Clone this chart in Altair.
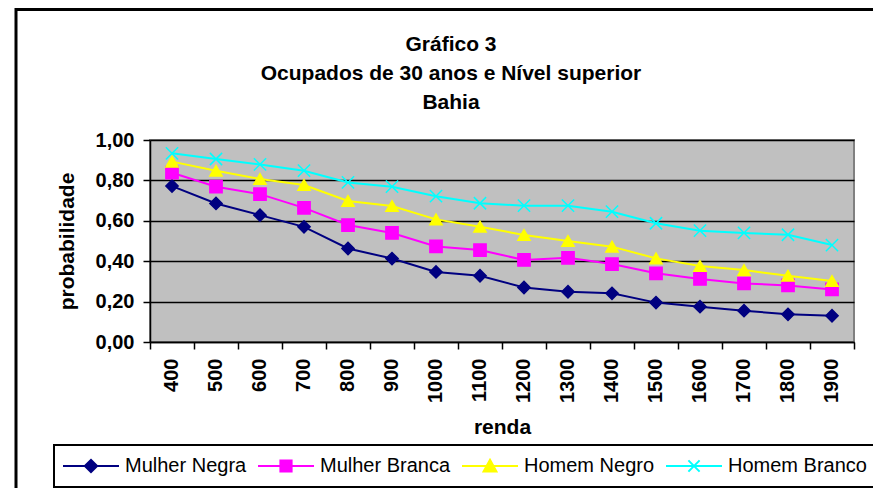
import altair as alt
import pandas as pd

renda = [400, 500, 600, 700, 800, 900, 1000, 1100, 1200, 1300, 1400, 1500, 1600, 1700, 1800, 1900]
series_names = ["Mulher Negra", "Mulher Branca", "Homem Negro", "Homem Branco"]
mulher_negra = [0.772, 0.686, 0.628, 0.570, 0.463, 0.413, 0.347, 0.328, 0.270, 0.249, 0.241, 0.195, 0.175, 0.155, 0.137, 0.130]
mulher_branca = [0.838, 0.769, 0.732, 0.664, 0.579, 0.540, 0.473, 0.455, 0.406, 0.417, 0.386, 0.340, 0.312, 0.290, 0.280, 0.260]
homem_negro = [0.893, 0.848, 0.807, 0.777, 0.698, 0.673, 0.607, 0.571, 0.530, 0.500, 0.472, 0.414, 0.376, 0.356, 0.328, 0.302]
homem_branco = [0.934, 0.906, 0.879, 0.848, 0.790, 0.769, 0.722, 0.687, 0.675, 0.675, 0.645, 0.588, 0.551, 0.540, 0.531, 0.480]
colors = ["#000080", "#FF00FF", "#FFFF00", "#00FFFF"]
y_ticks = [0, 0.2, 0.4, 0.6, 0.8, 1.0]
title_lines = ["Gráfico 3", "Ocupados de 30 anos e Nível superior", "Bahia"]

# marker shapes in the plot
plot_shapes = ["diamond", "square", "triangle-up", "M-1,-1L1,1M-1,1L1,-1"]
# legend symbols: line + marker
legend_shapes = [
    "M-1,0H1M-0.22,0L0,-0.22L0.22,0L0,0.22Z",
    "M-1,0H1M-0.2,-0.2H0.2V0.2H-0.2Z",
    "M-1,0H1M0,-0.22L0.23,0.2L-0.23,0.2Z",
    "M-1,0H1M-0.2,-0.2L0.2,0.2M-0.2,0.2L0.2,-0.2",
]

values = [mulher_negra, mulher_branca, homem_negro, homem_branco]
rows = []
for name, vals in zip(series_names, values):
    for r, v in zip(renda, vals):
        rows.append({"renda": r, "serie": name, "prob": v})
df = pd.DataFrame(rows)

FONT = "Liberation Sans"

x_enc = alt.X(
    "renda:O",
    title="renda",
    scale=alt.Scale(type="band", paddingInner=0, paddingOuter=0),
    axis=alt.Axis(
        labelAngle=-90,
        bandPosition=1,
        tickExtra=True,
        labelFontSize=20,
        labelFontWeight="bold",
        labelColor="black",
        labelPadding=9,
        tickSize=7,
        tickColor="black",
        tickWidth=1.5,
        domainColor="black",
        domainWidth=1.5,
        titleFontSize=21,
        titleFontWeight="bold",
        titleColor="black",
        titlePadding=14,
        grid=False,
    ),
)
y_enc = alt.Y(
    "prob:Q",
    title="probabilidade",
    scale=alt.Scale(domain=[0, 1], nice=False, zero=True),
    axis=alt.Axis(
        values=y_ticks,
        labelExpr="replace(format(datum.value, '.2f'), '.', ',')",
        labelFontSize=20,
        labelFontWeight="bold",
        labelColor="black",
        labelPadding=9,
        tickSize=7,
        tickColor="black",
        tickWidth=1.5,
        domainColor="black",
        domainWidth=1.5,
        gridColor="black",
        gridWidth=1.5,
        gridOpacity=1,
        titleFontSize=21,
        titleFontWeight="bold",
        titleColor="black",
        titlePadding=18,
    ),
)

col_scale = alt.Scale(domain=series_names, range=colors)

frame = alt.Chart(alt.Data(values=[{"k": 1}])).mark_rect(
    fillOpacity=0, stroke="black", strokeWidth=3
).encode(
    x=alt.value(-134), x2=alt.value(760), y=alt.value(-130.5), y2=alt.value(400)
)

lines = alt.Chart(df).mark_line(strokeWidth=2).encode(
    x=x_enc,
    y=y_enc,
    stroke=alt.Stroke("serie:N", scale=col_scale, legend=None),
    detail="serie:N",
)

points = alt.Chart(df).mark_point(filled=True, size=150, strokeWidth=1.5, opacity=1).encode(
    x=x_enc,
    y=y_enc,
    fill=alt.Fill("serie:N", scale=col_scale, legend=None),
    stroke=alt.Stroke("serie:N", scale=col_scale, legend=None),
    shape=alt.Shape("serie:N", scale=alt.Scale(domain=series_names, range=plot_shapes), legend=None),
)

leg = alt.Legend(
    title=None,
    orient="none",
    legendX=-96,
    legendY=305,
    direction="horizontal",
    padding=8,
    strokeColor="black",
    fillColor="white",
    labelFontSize=20,
    labelFont=FONT,
    labelColor="black",
    labelOffset=5,
    labelLimit=400,
    columnPadding=10,
    symbolSize=3136,
    symbolStrokeWidth=2,
    symbolOpacity=1,
    clipHeight=26,
)

legend_layer = alt.Chart(df).mark_point(filled=True, opacity=1).encode(
    x=x_enc,
    y=y_enc,
    fill=alt.Fill("serie:N", scale=col_scale, legend=leg),
    stroke=alt.Stroke("serie:N", scale=col_scale, legend=leg),
    shape=alt.Shape("serie:N", scale=alt.Scale(domain=series_names, range=legend_shapes), legend=leg),
).transform_filter("false")

chart = alt.layer(frame, lines, points, legend_layer).resolve_scale(
    fill="independent", stroke="independent", shape="independent"
).properties(
    width=704,
    height=202,
    autosize=alt.AutoSizeParams(type="none"),
    padding={"left": 142, "top": 132, "right": 19, "bottom": 146},
    title=alt.Title(
        title_lines,
        fontSize=21,
        fontWeight="bold",
        font=FONT,
        color="black",
        lineHeight=29,
        anchor="middle",
        frame="group",
        dx=-51,
        offset=-105,
    ),
).configure(
    font=FONT,
).configure_view(
    fill="#C0C0C0", stroke="#808080", strokeWidth=2
).configure_legend(
    strokeWidth=2
)

chart.save("out.html", embed_options={"renderer": "svg", "actions": False})
